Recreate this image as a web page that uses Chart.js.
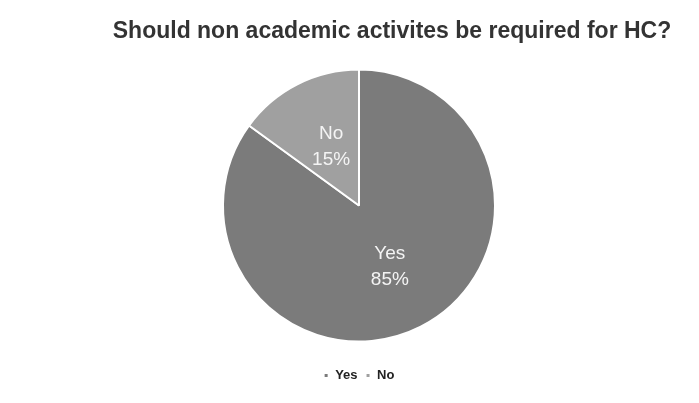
<!DOCTYPE html>
<html>
<head>
<meta charset="utf-8">
<script src="https://cdn.jsdelivr.net/npm/chart.js@4.4.0/dist/chart.umd.min.js"></script>
<style>
    html, body { margin: 0; padding: 0; background: #ffffff; }
    #wrap { width: 699px; height: 403px; }
</style>
</head>
<body>
<div id="wrap"><canvas id="pieChart" width="699" height="403"></canvas></div>
<script>
// Datos del gráfico
const categories = ['Yes', 'No'];
const percentValues = [85, 15];
const sliceColors = ['#7b7b7b', '#a0a0a0'];
const chartTitle = 'Should non academic activites be required for HC?';

// Title drawn by hand so it can sit off-centre like the original
const titlePlugin = {
    id: 'titlePlugin',
    afterDraw(chart) {
        const ctx = chart.ctx;
        ctx.save();
        ctx.font = 'bold 23px "Liberation Sans", Arial, sans-serif';
        ctx.fillStyle = '#333333';
        ctx.textAlign = 'center';
        ctx.textBaseline = 'middle';
        ctx.fillText(chartTitle, 392, 32);
        ctx.restore();
    }
};

// Labels inside the slices
const sliceLabels = {
    id: 'sliceLabels',
    afterDatasetsDraw(chart) {
        const ctx = chart.ctx;
        const meta = chart.getDatasetMeta(0);
        ctx.save();
        ctx.font = '19px "Liberation Sans", Arial, sans-serif';
        ctx.fillStyle = '#f4f4f4';
        ctx.textAlign = 'center';
        ctx.textBaseline = 'middle';
        meta.data.forEach((arc, i) => {
            const pos = arc.tooltipPosition();
            const dx = i === 1 ? 3 : 0;
            const dy = i === 1 ? 2 : 1;
            ctx.fillText(chart.data.labels[i], pos.x + dx, pos.y + dy - 13);
            ctx.fillText(chart.data.datasets[0].data[i] + '%', pos.x + dx, pos.y + dy + 13);
        });
        ctx.restore();
    }
};

new Chart(document.getElementById('pieChart'), {
    type: 'pie',
    data: {
        labels: categories,
        datasets: [{
            data: percentValues,
            backgroundColor: sliceColors,
            borderColor: '#ffffff',
            borderWidth: 2,
            radius: 136
        }]
    },
    options: {
        responsive: false,
        animation: false,
        layout: {
            padding: { top: 50, bottom: 11, left: 19, right: 0 }
        },
        plugins: {
            legend: {
                position: 'bottom',
                labels: {
                    boxWidth: 5,
                    boxHeight: 5,
                    padding: 8,
                    color: '#222222',
                    font: { size: 13, weight: 'bold', family: '"Liberation Sans", Arial, sans-serif' }
                }
            },
            tooltip: { enabled: false },
            title: { display: false }
        }
    },
    plugins: [titlePlugin, sliceLabels]
});
</script>
</body>
</html>
